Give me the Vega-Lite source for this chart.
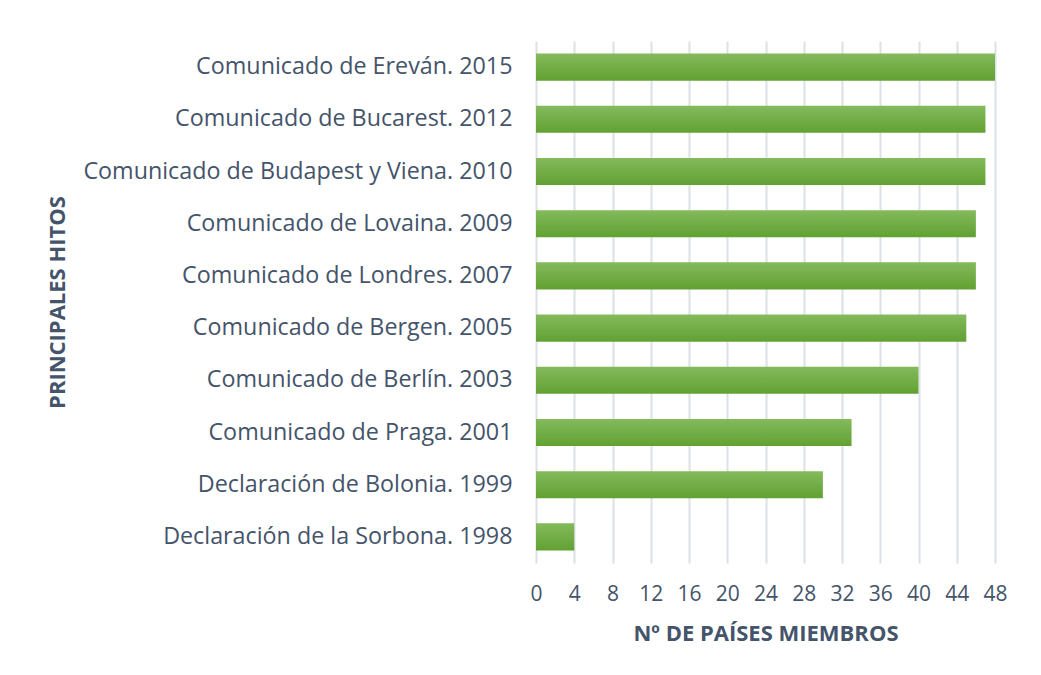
{
  "$schema": "https://vega.github.io/schema/vega-lite/v6.json",
  "autosize": {"type": "none"},
  "padding": {"left": 536, "top": 41, "right": 46, "bottom": 112},
  "width": 459,
  "height": 522,
  "background": "white",
  "data": {
    "values": [
      {"hito": "Comunicado de Ereván. 2015", "paises": 48},
      {"hito": "Comunicado de Bucarest. 2012", "paises": 47},
      {"hito": "Comunicado de Budapest y Viena. 2010", "paises": 47},
      {"hito": "Comunicado de Lovaina. 2009", "paises": 46},
      {"hito": "Comunicado de Londres. 2007", "paises": 46},
      {"hito": "Comunicado de Bergen. 2005", "paises": 45},
      {"hito": "Comunicado de Berlín. 2003", "paises": 40},
      {"hito": "Comunicado de Praga. 2001", "paises": 33},
      {"hito": "Declaración de Bolonia. 1999", "paises": 30},
      {"hito": "Declaración de la Sorbona. 1998", "paises": 4}
    ]
  },
  "config": {
    "view": {"stroke": null},
    "font": "Open Sans",
    "axis": {
      "labelColor": "#44546A",
      "titleColor": "#44546A",
      "labelFont": "Open Sans",
      "titleFont": "Open Sans",
      "domain": false,
      "ticks": false
    }
  },
  "mark": {
    "type": "bar",
    "fill": {
      "gradient": "linear",
      "x1": 0, "y1": 0, "x2": 0, "y2": 1,
      "stops": [
        {"offset": 0, "color": "#84BA5C"},
        {"offset": 1, "color": "#61A132"}
      ]
    }
  },
  "encoding": {
    "y": {
      "field": "hito",
      "type": "nominal",
      "sort": null,
      "scale": {"paddingInner": 0.48, "paddingOuter": 0.24},
      "axis": {
        "title": "PRINCIPALES HITOS",
        "titleFontSize": 22,
        "titleFontWeight": "bold",
        "titleX": -479,
        "titleY": 261,
        "titleAngle": 270,
        "titleAlign": "center",
        "titleBaseline": "middle",
        "labelFontSize": 23.3,
        "labelPadding": 24,
        "labelLimit": 600,
        "grid": false
      }
    },
    "x": {
      "field": "paises",
      "type": "quantitative",
      "scale": {"domain": [0, 48], "nice": false},
      "axis": {
        "title": "Nº DE PAÍSES MIEMBROS",
        "values": [0, 4, 8, 12, 16, 20, 24, 28, 32, 36, 40, 44, 48],
        "titleFontSize": 22,
        "titleFontWeight": "bold",
        "titlePadding": 19,
        "labelFontSize": 21,
        "labelPadding": 20,
        "labelFlush": false,
        "labelOverlap": false,
        "grid": true,
        "gridColor": "#DCE0E7",
        "gridWidth": 2
      }
    }
  }
}
